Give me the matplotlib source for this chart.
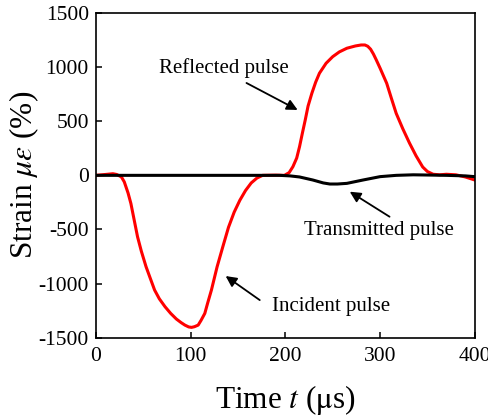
import matplotlib
matplotlib.use('Agg')
import matplotlib.pyplot as plt

plt.rcParams['font.family'] = ['Liberation Serif', 'DejaVu Serif']
plt.rcParams['mathtext.fontset'] = 'stix'
plt.rcParams['axes.unicode_minus'] = False

# incident + reflected pulse (input bar gauge)
t_in = [0, 10, 18, 22, 27, 30, 34, 37, 39, 44, 48, 53, 57, 62, 67, 73, 79, 85,
        90, 94, 98, 101, 104, 108, 111, 115, 118, 122, 128, 134, 140, 146, 152,
        158, 164, 170, 176, 190, 199, 204, 208, 212, 215, 218, 221, 224, 228,
        232, 236, 243, 250, 257, 265, 274, 280, 284, 287, 290, 293, 296, 300,
        304, 307, 312, 317, 324, 331, 338, 345, 350, 356, 363, 370, 380, 390,
        400]
strain_in = [0, 8, 15, 8, -15, -60, -163, -260, -348, -567, -700, -844, -940,
             -1059, -1140, -1213, -1275, -1327, -1360, -1383, -1400, -1404,
             -1398, -1383, -1340, -1275, -1180, -1059, -844, -660, -480, -340,
             -230, -140, -70, -25, 0, 2, 0, 25, 80, 160, 265, 390, 511, 640, 758,
             860, 943, 1035, 1096, 1140, 1174, 1195, 1204, 1204, 1192, 1165,
             1120, 1066, 990, 910, 850, 710, 573, 430, 299, 180, 77, 35, 10, 5,
             10, 5, -15, -43]

# transmitted pulse (output bar gauge)
t_out = [0, 194, 205, 215, 229, 240, 247, 255, 265, 282, 300, 317, 335, 350,
         370, 390, 400]
strain_out = [0, 0, -5, -15, -43, -70, -80, -80, -74, -43, -12, 0, 5, 3, 0,
              -5, -12]

fig = plt.figure(figsize=(4.89, 4.17), dpi=100)
ax = fig.add_axes([0.196, 0.190, 0.775, 0.779])

ax.plot(t_in, strain_in, color='red', lw=2.2)
ax.plot(t_out, strain_out, color='black', lw=2.2)

ax.set_xlim(0, 400)
ax.set_ylim(-1500, 1500)
ax.set_xticks([0, 100, 200, 300, 400])
ax.set_yticks([-1500, -1000, -500, 0, 500, 1000, 1500])
ax.tick_params(direction='in', length=4, width=1.1, labelsize=15.5)
ax.tick_params(axis='x', pad=7)
ax.tick_params(axis='y', pad=5)
for s in ax.spines.values():
    s.set_linewidth(1.2)

ax.set_xlabel(r'Time $t$ ($\mathrm{\mu}$s)', fontsize=22.5, labelpad=12)
ax.set_ylabel(r'Strain $\mu\varepsilon$ (%)', fontsize=22.5, labelpad=-1.5)

# pulse labels and their arrows
ax.text(135, 943, 'Reflected pulse', ha='center', va='baseline', fontsize=15)
ax.text(298.6, -551, 'Transmitted pulse', ha='center', va='baseline', fontsize=15)
ax.text(248.5, -1251, 'Incident pulse', ha='center', va='baseline', fontsize=15)

arrow = dict(arrowstyle='-|>', color='black', lw=1.3, mutation_scale=16,
             shrinkA=0, shrinkB=0)
ax.annotate('', xy=(213, 604), xytext=(159, 853), arrowprops=arrow)
ax.annotate('', xy=(268, -151), xytext=(310, -382), arrowprops=arrow)
ax.annotate('', xy=(137, -930), xytext=(173, -1152), arrowprops=arrow)

fig.savefig('out.png', dpi=100)
